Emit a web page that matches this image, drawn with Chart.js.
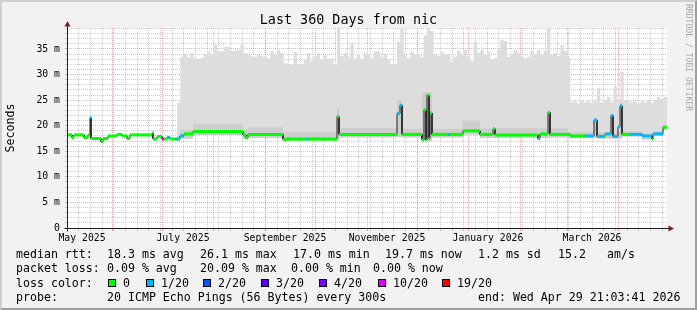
<!DOCTYPE html>
<html>
<head>
<meta charset="utf-8">
<script src="https://cdn.jsdelivr.net/npm/chart.js@4.4.1/dist/chart.umd.min.js"></script>
<style>
  body { margin: 0; background: #f2f2f2; }
  #marco { position: relative; width: 697px; height: 310px; background: #f2f2f2; overflow: hidden;
           font-family: "DejaVu Sans Mono", monospace; color: #000; }
  #grafico { position: absolute; left: 0; top: 0; }
  #titulo { position: absolute; left: 0; top: 11.8px; width: 697px; text-align: center;
            font-size: 13.4px; line-height: 16px; }
  .txt { position: absolute; white-space: pre; font-size: 11.6px; line-height: 14px; }
  .caja { position: absolute; width: 6px; height: 6px; border: 1px solid #000; }
  #firma { position: absolute; left: 684px; top: 4px; writing-mode: vertical-rl;
           font-size: 8.1px; line-height: 9px; color: #a8a8a8; }
  #borde { position: absolute; left: 0; top: 0; width: 697px; height: 310px; box-sizing: border-box;
           border-top: 2px solid #cfcfcf; border-left: 2px solid #cfcfcf;
           border-right: 2px solid #9e9e9e; border-bottom: 2px solid #9e9e9e; pointer-events: none; }
</style>
</head>
<body>
<div id="marco">
  <canvas id="grafico" width="697" height="310"></canvas>
  <div id="titulo">Last 360 Days from nic</div>
  <div id="firma">RRDTOOL / TOBI OETIKER</div>
  <div id="leyenda"></div>
  <div id="borde"></div>
</div>
<script>
/* ----- Datos (dias desde el inicio del grafico, 4 may 2025 21:03) ----- */
const medianaDias = [0, 3, 4.2, 10.2, 12.6, 13.8, 14.4, 20.4, 21.6, 24.6, 30, 33, 36, 37.8, 51, 51.6, 54, 57,
    58.2, 60, 61.8, 64.8, 66.6, 67.8, 70.2, 75.6, 105.6, 107.4, 108.6, 129.6, 130.8, 143.4, 144.6, 162,
    163.2, 198, 199.8, 201, 213, 214.2, 215.4, 216, 217.2, 217.8, 219, 228.6, 229.8, 237.6, 247.8, 255.6,
    256.8, 282.6, 283.8, 288.6, 289.8, 301.8, 310.8, 316.2, 318, 321.6, 322.8, 326.4, 327.6, 330.6, 331.8,
    333, 337.8, 345, 351, 351.6, 357.6];
const medianaMs = [18.2, 17.7, 18.2, 17.7, 18.2, 21.6, 17.5, 16.9, 17.5, 18.0, 18.3, 18.0, 17.5, 18.2, 18.6,
    17.4, 17.9, 17.4, 17.4, 17.7, 17.4, 17.4, 17.4, 18.0, 18.4, 18.85, 18.2, 17.7, 18.3, 17.3, 17.4, 17.4,
    17.4, 21.8, 18.3, 22.4, 24.0, 18.3, 17.2, 23.1, 17.2, 26.0, 17.5, 22.5, 18.3, 18.3, 18.3, 19.0, 18.3,
    19.4, 18.2, 17.5, 18.4, 22.6, 18.3, 18.0, 18.0, 21.1, 17.9, 17.9, 18.4, 22.0, 17.9, 19.8, 23.9, 18.3,
    18.3, 18.0, 17.4, 18.4, 19.7];
const perdidas = [0, 0, 0, 0, 0, 1, 0, 0, 0, 0, 0, 0, 0, 0, 0, 0, 0, 10, 0, 1, 0, 1, 0, 1, 0, 0, 0, 0, 0, 0,
    0, 1, 0, 0, 0, 1, 1, 0, 0, 0, 0, 0, 0, 0, 0, 1, 0, 0, 0, 0, 0, 1, 0, 0, 0, 0, 1, 1, 1, 0, 1, 1, 1, 1, 1,
    0, 1, 1, 0, 1, 0];

// techo del humo, cada 2 dias desde el dia 66
const humoInicio = 66;
const humoMax = [
    24.4, 33.5, 34.0, 33.4, 34.2, 33.2, 33.0, 33.3, 34.0, 34.5,
    34.0, 35.8, 34.5, 34.5, 35.4, 35.4, 34.6, 34.6, 34.8, 35.8,
    34.2, 33.8, 33.6, 33.5, 33.8, 33.6, 33.4, 33.2, 34.6, 34.0,
    34.8, 34.2, 32.2, 31.9, 31.9, 34.4, 32.0, 31.9, 33.0, 34.2,
    32.6, 33.6, 34.2, 32.8, 33.8, 33.0, 33.2, 31.9, 39.1, 33.6,
    34.2, 33.5, 36.2, 33.2, 34.0, 33.0, 34.2, 34.0, 33.2, 34.5,
    34.5, 33.4, 34.0, 33.0, 31.9, 32.0, 36.4, 39.1, 34.0, 33.2,
    34.4, 34.0, 34.0, 33.4, 37.7, 39.1, 38.5, 34.0, 33.6, 34.4,
    33.8, 34.0, 32.5, 33.5, 34.6, 34.0, 34.8, 33.6, 32.6, 36.4,
    34.2, 34.8, 33.8, 34.5, 33.0, 33.2, 34.8, 36.8, 36.5, 33.4,
    34.0, 34.8, 34.2, 33.4, 33.2, 33.5, 34.6, 34.0, 34.8, 33.8,
    34.6, 39.1, 33.8, 34.2, 33.6, 35.8, 34.6, 33.4, 24.6, 24.8,
    24.4, 25.0, 24.6, 24.8, 24.4, 24.8, 27.4, 24.6, 25.0, 25.6,
    24.6, 27.6, 24.8, 30.5, 25.0, 25.0, 24.6, 24.8, 24.4, 24.8,
    24.6, 25.0, 24.4, 25.0, 25.6, 25.2, 25.6
];

// banda gris media alrededor de la mediana
const bandaDias = [66, 67.8, 75.6, 105.6, 108.6, 129.6, 162, 163.2, 198, 201, 213, 219, 237.6, 247.8,
    288.6, 289.8, 300.6, 316.2, 318, 326.4, 327.6, 331.8, 333, 345, 351.6, 357.6];
const bandaBaja = [17.0, 17.5, 18.2, 17.3, 17.6, 16.9, 17.4, 17.7, 17.8, 17.7, 17.0, 17.7, 18.3, 17.6,
    17.6, 17.7, 17.6, 17.6, 17.5, 17.5, 17.5, 17.5, 17.9, 17.3, 18.0, 19.2];
const bandaAlta = [18.0, 19.2, 20.3, 19.3, 19.7, 18.8, 23.5, 19.5, 25.0, 19.4, 26.5, 19.4, 21.0, 19.5,
    23.0, 19.5, 18.8, 21.5, 18.7, 22.4, 18.7, 24.5, 18.9, 18.5, 18.9, 20.1];

const etiquetasX = ["May 2025", "July 2025", "September 2025", "November 2025", "January 2026", "March 2026"];
const etiquetasXDias = [9.0, 69.6, 130.8, 192.0, 252.6, 315.0];

const nivelesPerdida = [0, 1, 2, 3, 4, 10, 19];
const coloresPerdida = ["#00ff00", "#00b8ff", "#0059ff", "#5e00ff", "#7e00ff", "#dd00ff", "#ff0000"];
const nombresPerdida = ["0", "1/20", "2/20", "3/20", "4/20", "10/20", "19/20"];

/* ----- Rejilla ----- */
const FIN = 360;
const inicio = Date.UTC(2025, 4, 4, 21, 3, 41);
const DIA = 86400000;
const MENOR = "rgba(143,143,143,0.45)";
const MAYOR = "rgba(222,79,79,0.45)";
const FUENTE = "DejaVu Sans Mono";

const marcasX = [];
for (let d = (Date.UTC(2025, 4, 5) - inicio) / DIA; d < FIN; d += 7) marcasX.push({ value: d, clase: "semana" });
for (let m = 5; m < 16; m++) {
    marcasX.push({ value: (Date.UTC(2025, m, 1) - inicio) / DIA, clase: "mes" });
}
etiquetasXDias.forEach((d, i) => marcasX.push({ value: d, clase: "etiqueta", texto: etiquetasX[i] }));
marcasX.sort((a, b) => a.value - b.value);

function colorX(c) {
    if (!c.tick) return "rgba(0,0,0,0)";
    if (c.tick.clase === "mes") return MAYOR;
    if (c.tick.clase === "semana") return MENOR;
    return "rgba(0,0,0,0)";
}
function colorY(c) {
    if (!c.tick) return "rgba(0,0,0,0)";
    return c.tick.value % 5 === 0 ? MAYOR : MENOR;
}

/* ----- Puntos en escalon ----- */
function escalon(dias, valores, fin) {
    const pts = [];
    dias.forEach((d, i) => {
        const hasta = i < dias.length - 1 ? dias[i + 1] : fin;
        pts.push({ x: d, y: valores[i] }, { x: hasta, y: valores[i] });
    });
    return pts;
}
const humoDias = humoMax.map((v, i) => humoInicio + 2 * i);

// tramos de color: cada tramo es horizontal y separado por un hueco
const tramos = [];
medianaDias.forEach((d, i) => {
    const hasta = i < medianaDias.length - 1 ? medianaDias[i + 1] : FIN;
    tramos.push({ x: d, y: medianaMs[i] }, { x: hasta, y: medianaMs[i] }, { x: hasta, y: null });
});
function colorTramo(idx) {
    const p = perdidas[Math.floor(idx / 3)];
    return coloresPerdida[nivelesPerdida.indexOf(p)];
}

/* ----- Fondo blanco y ejes con flecha ----- */
const ejes = {
    id: "ejes",
    beforeDraw(chart) {
        const { ctx, chartArea: a } = chart;
        ctx.save();
        ctx.fillStyle = "#ffffff";
        ctx.fillRect(a.left, a.top, a.right - a.left, a.bottom - a.top);
        ctx.restore();
    },
    afterDraw(chart) {
        const { ctx, chartArea: a } = chart;
        const x0 = Math.round(a.left) + 0.5, y0 = Math.round(a.bottom) + 0.5;
        ctx.save();
        ctx.strokeStyle = "#1f1f1f";
        ctx.lineWidth = 1;
        ctx.beginPath();
        ctx.moveTo(x0, y0 + 3); ctx.lineTo(x0, a.top - 3);
        ctx.moveTo(x0 - 3, y0); ctx.lineTo(a.right + 2, y0);
        ctx.stroke();
        ctx.fillStyle = "#801f1f";
        ctx.beginPath();
        ctx.moveTo(x0, a.top - 7); ctx.lineTo(x0 - 3, a.top - 1.5); ctx.lineTo(x0 + 3, a.top - 1.5);
        ctx.closePath(); ctx.fill();
        ctx.beginPath();
        ctx.moveTo(a.right + 7, y0); ctx.lineTo(a.right + 1.5, y0 - 3); ctx.lineTo(a.right + 1.5, y0 + 3);
        ctx.closePath(); ctx.fill();
        ctx.restore();
    }
};

/* ----- Grafico ----- */
new Chart(document.getElementById("grafico"), {
    type: "line",
    data: {
        datasets: [
            { data: tramos, borderColor: "#00ff00", borderWidth: 3, borderCapStyle: "butt", spanGaps: false,
              segment: { borderColor: c => colorTramo(c.p0DataIndex) }, fill: false, order: 0 },
            { data: escalon(medianaDias, medianaMs, FIN), borderColor: "#202020", borderWidth: 1,
              fill: false, order: 1 },
            { data: escalon(bandaDias, bandaAlta, FIN), borderWidth: 0, borderColor: "rgba(0,0,0,0)",
              backgroundColor: "#cdcdcd", fill: 4, order: 2 },
            { data: escalon(humoDias, humoMax, FIN), borderWidth: 0, borderColor: "rgba(0,0,0,0)",
              backgroundColor: "#dddddd", fill: 4, order: 3 },
            { data: escalon(bandaDias, bandaBaja, FIN), borderWidth: 0, borderColor: "rgba(0,0,0,0)",
              fill: false, order: 4 }
        ]
    },
    options: {
        responsive: false,
        animation: false,
        layout: { padding: { left: 0, right: 30, top: 28, bottom: 62 } },
        plugins: { legend: { display: false }, tooltip: { enabled: false } },
        elements: { point: { radius: 0 }, line: { tension: 0 } },
        scales: {
            x: {
                type: "linear", min: 0, max: FIN, bounds: "data", z: 1,
                afterBuildTicks: s => { s.ticks = marcasX.map(m => ({ ...m })); },
                afterFit: s => { s.height = 20; },
                grid: { color: colorX, tickColor: colorX, tickLength: 3, lineWidth: 1 },
                border: { display: false, dash: [1, 1] },
                ticks: {
                    autoSkip: false, maxRotation: 0, minRotation: 0, padding: 2, color: "#000",
                    font: { family: FUENTE, size: 9.8 },
                    callback: (v, i, t) => t[i].texto || ""
                }
            },
            y: {
                min: 0, max: 39.1, bounds: "data", z: 1,
                afterBuildTicks: s => {
                    s.ticks = [];
                    for (let v = 0; v <= 39; v++) s.ticks.push({ value: v });
                },
                afterFit: s => { s.width = 67; },
                grid: { color: colorY, tickColor: colorY, tickLength: 2, lineWidth: 1 },
                border: { display: false, dash: [1, 1] },
                ticks: {
                    autoSkip: false, padding: 5, color: "#000", font: { family: FUENTE, size: 9.8 },
                    callback: v => v === 0 ? "0" : (v % 5 === 0 ? v + " m" : "")
                },
                title: { display: true, text: "Seconds", color: "#000", font: { family: FUENTE, size: 11.6 },
                         padding: { top: 4, bottom: 4 } }
            }
        }
    },
    plugins: [ejes]
});

/* ----- Leyenda ----- */
const filasY = [247.3, 261.4, 275.5, 289.6];
const textosLeyenda = [
    ["median rtt:", 16, 0], ["18.3 ms avg", 107, 0], ["26.1 ms max", 200, 0], ["17.0 ms min", 293, 0],
    ["19.7 ms now", 385, 0], ["1.2 ms sd", 478, 0], ["15.2", 558, 0], ["am/s", 607, 0],
    ["packet loss:", 16, 1], ["0.09 % avg", 107, 1], ["20.09 % max", 200, 1], ["0.00 % min", 291, 1],
    ["0.00 % now", 373, 1],
    ["loss color:", 16, 2],
    ["probe:", 16, 3], ["20 ICMP Echo Pings (56 Bytes) every 300s", 107, 3],
    ["end: Wed Apr 29 21:03:41 2026", 478, 3]
];
const cajasX = [108, 146, 203, 261, 319, 378, 442];
const leyenda = document.getElementById("leyenda");
textosLeyenda.forEach(([t, x, f]) => {
    leyenda.innerHTML += `<div class="txt" style="left:${x}px;top:${filasY[f]}px">${t}</div>`;
});
cajasX.forEach((x, i) => {
    leyenda.innerHTML += `<div class="caja" style="left:${x}px;top:279px;background:${coloresPerdida[i]}"></div>`;
    leyenda.innerHTML += `<div class="txt" style="left:${x + 15}px;top:${filasY[2]}px">${nombresPerdida[i]}</div>`;
});
</script>
</body>
</html>
